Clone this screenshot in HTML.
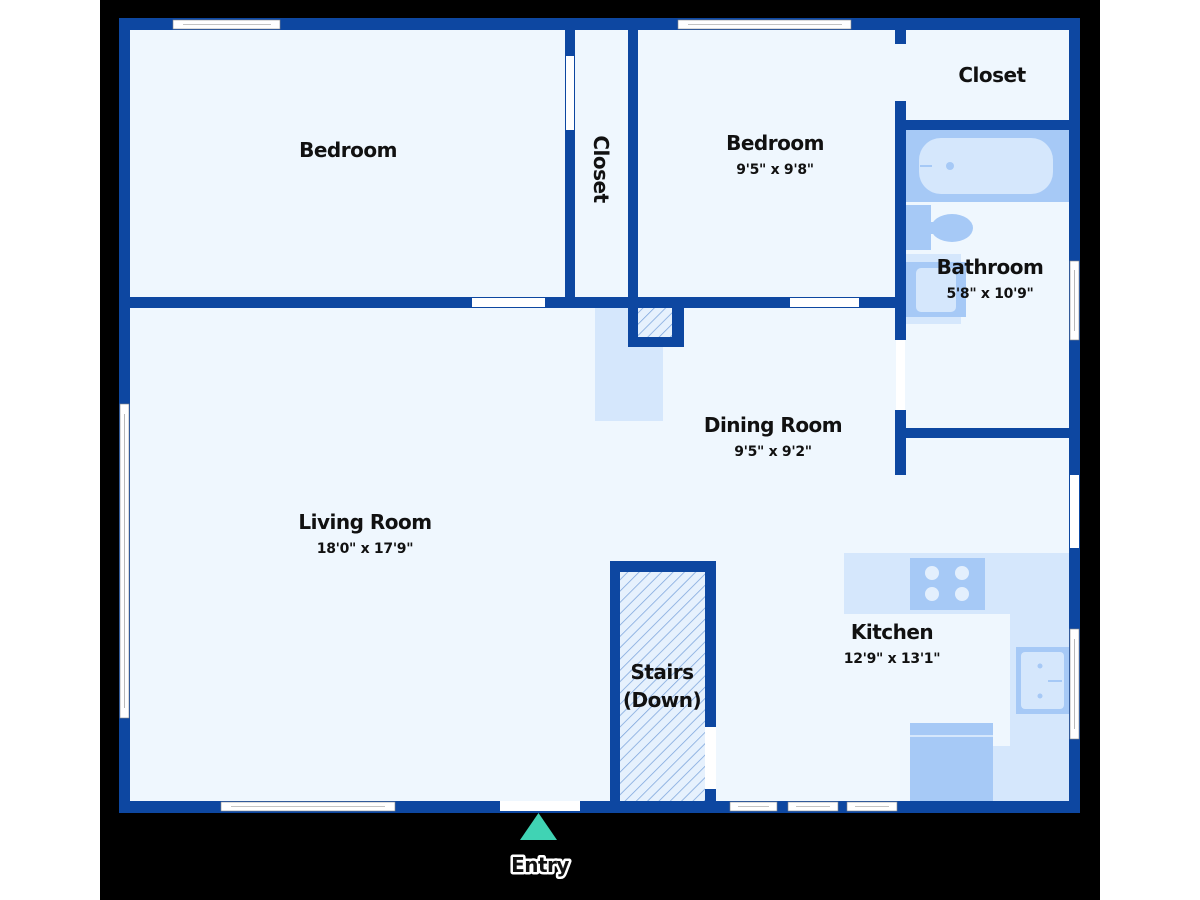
<!DOCTYPE html>
<html><head><meta charset="utf-8"><style>
html,body{margin:0;padding:0;background:#fff;}
svg{display:block;}
text{font-family:"DejaVu Sans","Liberation Sans",sans-serif;font-weight:bold;fill:#111;text-anchor:middle;}
.n{font-size:20px;letter-spacing:-0.5px;}
.d{font-size:14px;letter-spacing:-0.3px;}
</style></head><body>
<svg width="1200" height="900" viewBox="0 0 1200 900" xmlns="http://www.w3.org/2000/svg">
<defs>
<pattern id="h" width="8" height="8" patternUnits="userSpaceOnUse" patternTransform="rotate(45)">
<rect width="8" height="8" fill="#e6f1fd"/><line x1="0" y1="0" x2="0" y2="8" stroke="#7ba4dc" stroke-width="1.5"/>
</pattern>
</defs>
<rect x="0" y="0" width="1200" height="900" fill="#fff"/>
<rect x="100" y="0" width="1000" height="900" fill="#000"/>
<!-- floor -->
<rect x="119" y="18" width="961" height="795" fill="#eff7fe"/>
<!-- light blue near chimney -->
<rect x="595" y="308" width="68" height="113" fill="#d5e7fc"/>
<!-- kitchen counters -->
<rect x="844" y="553" width="225" height="61" fill="#d5e7fc"/>
<rect x="1010" y="553" width="59" height="248" fill="#d5e7fc"/>
<rect x="993" y="746" width="20" height="55" fill="#d5e7fc"/>
<rect x="910" y="558" width="75" height="52" fill="#a6c9f6"/>
<circle cx="932" cy="573" r="7" fill="#e3effd"/><circle cx="962" cy="573" r="7" fill="#e3effd"/>
<circle cx="932" cy="594" r="7" fill="#e3effd"/><circle cx="962" cy="594" r="7" fill="#e3effd"/>
<rect x="1016" y="647" width="53" height="67" fill="#a6c9f6"/>
<rect x="1021" y="652" width="43" height="57" rx="4" fill="#d5e7fc"/>
<circle cx="1040" cy="666" r="2.5" fill="#a6c9f6"/><circle cx="1040" cy="696" r="2.5" fill="#a6c9f6"/>
<rect x="1048" y="680" width="14" height="2" fill="#a6c9f6"/>
<rect x="910" y="723" width="83" height="78" fill="#a6c9f6"/>
<rect x="910" y="735" width="83" height="2" fill="#d5e7fc"/>
<!-- bathroom fixtures -->
<rect x="906" y="130" width="163" height="72" fill="#a6c9f6"/>
<rect x="919" y="138" width="134" height="56" rx="22" fill="#d5e7fc"/>
<circle cx="950" cy="166" r="4" fill="#a6c9f6"/><rect x="920" y="165" width="12" height="2" fill="#a6c9f6"/>
<rect x="906" y="205" width="25" height="45" fill="#a6c9f6"/>
<ellipse cx="952" cy="228" rx="21" ry="14" fill="#a6c9f6"/>
<rect x="930" y="222" width="10" height="12" fill="#a6c9f6"/>
<rect x="906" y="254" width="55" height="70" fill="#d5e7fc"/>
<rect x="906" y="262" width="60" height="55" fill="#a6c9f6"/>
<rect x="916" y="268" width="40" height="44" rx="5" fill="#d5e7fc"/>
<!-- chimney -->
<rect x="628" y="297" width="56" height="50" fill="#0d47a1"/>
<rect x="638" y="308" width="34" height="29" fill="url(#h)"/>
<!-- stairs -->
<rect x="610" y="561" width="106" height="252" fill="#0d47a1"/>
<rect x="620" y="572" width="85" height="229" fill="url(#h)"/>
<rect x="705" y="727" width="11" height="62" fill="#fff"/>
<g fill="#0d47a1">
<!-- outer walls -->
<rect x="119" y="18" width="961" height="12"/>
<rect x="119" y="801" width="961" height="12"/>
<rect x="119" y="18" width="11" height="795"/>
<rect x="1069" y="18" width="11" height="795"/>
<!-- interior -->
<rect x="119" y="297" width="787" height="11"/>
<rect x="565" y="18" width="10" height="290"/>
<rect x="628" y="18" width="10" height="290"/>
<rect x="895" y="18" width="11" height="26"/>
<rect x="895" y="101" width="11" height="239"/>
<rect x="895" y="410" width="11" height="65"/>
<rect x="906" y="120" width="174" height="10"/>
<rect x="906" y="428" width="174" height="10"/>
</g>
<!-- openings / windows -->
<g fill="#fff" stroke="#888" stroke-width="0.6">
<rect x="173" y="20" width="107" height="9"/><line x1="183" y1="24.5" x2="271" y2="24.5"/>
<rect x="678" y="20" width="173" height="9"/><line x1="688" y1="24.5" x2="842" y2="24.5"/>
<rect x="120" y="404" width="9" height="314"/><line x1="124.5" y1="414" x2="124.5" y2="708"/>
<rect x="221" y="802" width="174" height="9"/><line x1="231" y1="806.5" x2="385" y2="806.5"/>
<rect x="730" y="802" width="47" height="9"/><line x1="738" y1="806.5" x2="769" y2="806.5"/>
<rect x="788" y="802" width="50" height="9"/><line x1="796" y1="806.5" x2="830" y2="806.5"/>
<rect x="847" y="802" width="50" height="9"/><line x1="855" y1="806.5" x2="889" y2="806.5"/>
<rect x="1070" y="261" width="9" height="79"/><line x1="1074.5" y1="270" x2="1074.5" y2="331"/>
<rect x="1070" y="629" width="9" height="110"/><line x1="1074.5" y1="639" x2="1074.5" y2="729"/>
</g>
<g fill="#fff">
<rect x="500" y="801" width="80" height="10"/>
<rect x="472" y="298" width="73" height="9"/>
<rect x="790" y="298" width="69" height="9"/>
<rect x="566" y="56" width="8" height="74"/>
<rect x="896" y="340" width="9" height="70"/>
<rect x="1070" y="475" width="9" height="73"/>
</g>
<!-- labels -->
<text class="n" x="348" y="157">Bedroom</text>
<text class="n" x="775" y="150">Bedroom</text>
<text class="d" x="775" y="174">9'5" x 9'8"</text>
<text class="n" x="992" y="82">Closet</text>
<text class="n" transform="translate(594,169) rotate(90)">Closet</text>
<text class="n" x="990" y="274">Bathroom</text>
<text class="d" x="990" y="298">5'8" x 10'9"</text>
<text class="n" x="773" y="432">Dining Room</text>
<text class="d" x="773" y="456">9'5" x 9'2"</text>
<text class="n" x="365" y="529">Living Room</text>
<text class="d" x="365" y="553">18'0" x 17'9"</text>
<text class="n" x="892" y="639">Kitchen</text>
<text class="d" x="892" y="663">12'9" x 13'1"</text>
<text class="n" x="662" y="679">Stairs</text>
<text class="n" x="662" y="707">(Down)</text>
<polygon points="520,840 557,840 538.5,813" fill="#40d3b4"/>
<text class="n" x="540" y="872" style="stroke:#fff;stroke-width:5px;paint-order:stroke;stroke-linejoin:round;">Entry</text>
</svg>
</body></html>
